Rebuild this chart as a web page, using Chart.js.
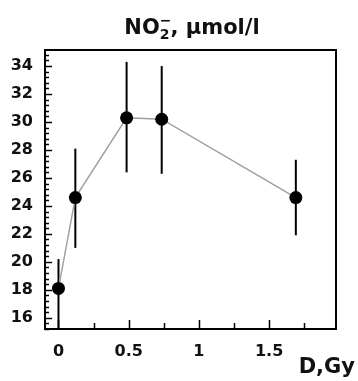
<!DOCTYPE html>
<html>
<head>
<meta charset="utf-8">
<script src="https://cdn.jsdelivr.net/npm/chart.js@4"></script>
<style>
    html, body { margin: 0; padding: 0; background: #fff; }
    canvas { display: block; }
</style>
</head>
<body>
<canvas id="no2Chart" width="358" height="381"></canvas>
<script>
// ============================================
// Data
// ============================================

const doseGy = [0, 0.12, 0.485, 0.735, 1.69];
const no2Level = [18.1, 24.6, 30.3, 30.2, 24.6];
const errPlus = [2.1, 3.5, 4.0, 3.8, 2.7];
const errMinus = [3.5, 3.6, 3.9, 3.9, 2.7];

const xTicks = [0, 0.5, 1, 1.5];
const yTicks = [16, 18, 20, 22, 24, 26, 28, 30, 32, 34];

// ============================================
// Helpers
// ============================================

const INK = '#111';
const FONT = '"DejaVu Sans", sans-serif';

// error bars, drawn underneath the markers
const errorBars = {
    id: 'errorBars',
    beforeDatasetsDraw(chart) {
        const { ctx, chartArea, scales } = chart;
        ctx.save();
        ctx.beginPath();
        ctx.rect(chartArea.left, chartArea.top, chartArea.right - chartArea.left, chartArea.bottom - chartArea.top);
        ctx.clip();
        ctx.strokeStyle = '#000';
        ctx.lineWidth = 2;
        doseGy.forEach((d, i) => {
            const px = scales.x.getPixelForValue(d);
            ctx.beginPath();
            ctx.moveTo(px, scales.y.getPixelForValue(no2Level[i] + errPlus[i]));
            ctx.lineTo(px, scales.y.getPixelForValue(no2Level[i] - errMinus[i]));
            ctx.stroke();
        });
        ctx.restore();
    }
};

// box frame with inward tick marks, plus title and axis label
const frameAndLabels = {
    id: 'frameAndLabels',
    afterDraw(chart) {
        const { ctx, chartArea: a, scales } = chart;
        ctx.save();
        ctx.strokeStyle = '#000';
        ctx.lineWidth = 2;
        ctx.strokeRect(a.left, a.top, a.right - a.left, a.bottom - a.top);

        // y ticks: major every 2, minor every 0.4
        ctx.lineWidth = 1.5;
        for (let k = 0; k * 0.4 + 15.2 <= scales.y.max + 1e-6; k++) {
            const v = 15.2 + k * 0.4;
            const py = Math.round(scales.y.getPixelForValue(v)) + 0.5;
            const major = yTicks.some(t => Math.abs(t - v) < 1e-6);
            ctx.beginPath();
            ctx.moveTo(a.left, py);
            ctx.lineTo(a.left + (major ? 7 : 4), py);
            ctx.stroke();
        }

        // x ticks: major every 0.5, minor every 0.25
        for (let k = 0; k * 0.25 <= scales.x.max; k++) {
            const v = k * 0.25;
            const px = Math.round(scales.x.getPixelForValue(v)) + 0.5;
            const major = k % 2 === 0;
            ctx.beginPath();
            ctx.moveTo(px, a.bottom);
            ctx.lineTo(px, a.bottom - (major ? 9 : 6));
            ctx.stroke();
        }

        // title: NO2^- , umol/l
        ctx.fillStyle = INK;
        ctx.textBaseline = 'alphabetic';
        ctx.textAlign = 'left';
        const big = 'bold 21px ' + FONT;
        const small = 'bold 14px ' + FONT;
        ctx.font = big;
        const partA = 'NO';
        const partB = ', \u00b5mol/l';
        const wA = ctx.measureText(partA).width;
        const wB = ctx.measureText(partB).width;
        ctx.font = small;
        const wS = ctx.measureText('2').width + 1;
        const total = wA + wS + wB;
        let x = 192 - total / 2;
        const base = 34;
        ctx.font = big;
        ctx.fillText(partA, x, base);
        x += wA;
        ctx.font = small;
        ctx.fillText('2', x, base + 5);
        ctx.fillText('\u2212', x, base - 9);
        x += wS;
        ctx.font = big;
        ctx.fillText(partB, x, base);

        // axis label
        ctx.font = 'bold 21px ' + FONT;
        ctx.textAlign = 'right';
        ctx.fillText('D,Gy', 355, 373);
        ctx.restore();
    }
};

// ============================================
// Chart
// ============================================

const tickFont = { family: FONT, size: 16, weight: 'bold' };

new Chart(document.getElementById('no2Chart').getContext('2d'), {
    type: 'scatter',
    data: {
        datasets: [{
            data: doseGy.map((d, i) => ({ x: d, y: no2Level[i] })),
            showLine: true,
            borderColor: '#9e9e9e',
            borderWidth: 1.4,
            pointRadius: 6.5,
            pointHoverRadius: 6.5,
            pointBackgroundColor: '#000',
            pointBorderColor: '#000',
            pointBorderWidth: 0
        }]
    },
    options: {
        responsive: false,
        animation: false,
        devicePixelRatio: 1,
        layout: { padding: { top: 50, right: 22, left: 0, bottom: 0 } },
        plugins: {
            legend: { display: false },
            tooltip: { enabled: false },
            title: { display: false }
        },
        scales: {
            x: {
                type: 'linear',
                min: -0.096,
                max: 1.976,
                grid: { display: false, drawTicks: false },
                border: { display: false },
                afterBuildTicks: s => { s.ticks = xTicks.map(v => ({ value: v })); },
                afterFit: s => { s.height = 52; },
                ticks: {
                    font: tickFont,
                    color: INK,
                    padding: 13,
                    autoSkip: false,
                    maxRotation: 0,
                    callback: v => String(v)
                }
            },
            y: {
                min: 15.2,
                max: 35.15,
                grid: { display: false, drawTicks: false },
                border: { display: false },
                afterBuildTicks: s => { s.ticks = yTicks.map(v => ({ value: v })); },
                afterFit: s => { s.width = 45; },
                ticks: {
                    font: tickFont,
                    color: INK,
                    padding: 12,
                    autoSkip: false,
                    callback: v => String(v)
                }
            }
        }
    },
    plugins: [errorBars, frameAndLabels]
});
</script>
</body>
</html>
